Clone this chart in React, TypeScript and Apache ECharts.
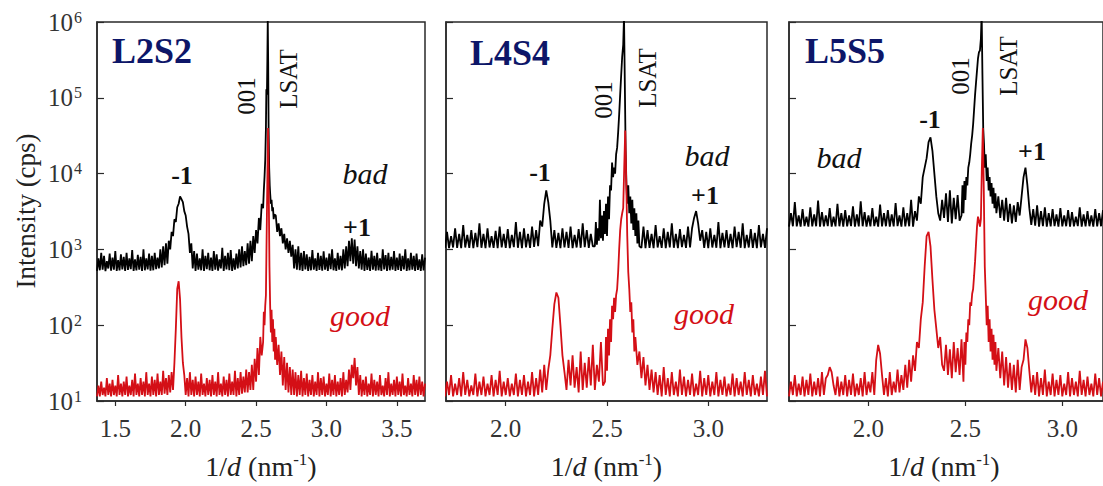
import { useEffect, useRef } from 'react';
import * as echarts from 'echarts';

// Diffraction scans, intensity (cps) sampled every STEP in 1/d, plus finer
// samples across the film / substrate reflections near 2.58 nm^-1.
const STEP = 0.01;
const SERIF = 'Liberation Serif, Times New Roman, Times, serif';
const RED = '#d40f16';
const NAVY = '#0d1668';

// ---- L2S2 (1/d from 1.37) ----
const l2s2Start = 1.37;
const l2s2Bad = [
  520, 760, 530, 900, 540, 820, 515, 700, 560, 880,
  525, 780, 540, 950, 520, 720, 530, 860, 545, 800,
  520, 900, 535, 760, 550, 980, 520, 740, 530, 850,
  540, 800, 520, 1000, 530, 760, 545, 880, 525, 820,
  530, 900, 550, 780, 560, 1000, 580, 1100, 620, 1200,
  650, 1300, 1000, 1700, 1500, 2500, 2300, 3600, 4000, 5000,
  4600, 4200, 3200, 2800, 2000, 1600, 900, 1200, 560, 950,
  520, 880, 540, 760, 530, 1000, 520, 820, 550, 900,
  530, 780, 520, 950, 540, 860, 525, 740, 560, 1050,
  520, 820, 545, 900, 530, 980, 520, 760, 540, 880,
  560, 1000, 580, 1100, 600, 950, 620, 1200, 650, 1300,
  700, 1500, 900, 1800, 1200, 2600, 1800, 4000, 3000, 8000,
  100000, 900000, 100000, 8000, 5000, 3000, 2500, 2800, 1700, 2200,
  1500, 1900, 1200, 1600, 1000, 1400, 900, 1300, 800, 1150,
  560, 1000, 540, 1100, 530, 900, 520, 950, 545, 860,
  520, 800, 530, 980, 540, 760, 520, 900, 535, 820,
  525, 940, 540, 780, 520, 880, 550, 1000, 530, 760,
  520, 900, 540, 820, 530, 1000, 560, 1100, 600, 1300,
  700, 1400, 650, 1350, 600, 1100, 560, 950, 540, 1000,
  520, 880, 535, 780, 520, 960, 540, 820, 525, 900,
  530, 760, 520, 1000, 545, 840, 520, 900, 530, 800,
  540, 950, 520, 780, 535, 880, 520, 820, 545, 1000,
  520, 760, 530, 900, 540, 820, 520, 880, 535, 740,
  520, 860, 530, 780,
];
const l2s2BadFine: [number, number][] = [
  [2.55, 3500], [2.555, 6000], [2.56, 9000], [2.565, 15000], [2.57, 40000],
  [2.573, 130000], [2.577, 110000], [2.58, 300000], [2.583, 1100000], [2.586, 300000],
  [2.589, 40000], [2.593, 12000], [2.597, 7000], [2.6, 5500], [2.605, 4000],
  [2.61, 4500], [2.615, 3200], [2.62, 3600], [2.625, 2500], [2.63, 2900],
];
const l2s2Good = [
  11.5, 16, 11.5, 18, 12, 15, 11.5, 20, 12, 17,
  11.5, 19, 12, 16, 11.5, 22, 12, 17, 11.5, 18,
  12, 21, 11.5, 16, 12, 19, 11.5, 23, 12, 17,
  11.5, 20, 12, 18, 11.5, 24, 12, 17, 11.5, 21,
  12, 19, 11.5, 23, 12, 18, 12, 25, 12.5, 20,
  12, 22, 13, 24, 14, 32, 90, 300, 380, 220,
  70, 32, 22, 12, 20, 11.5, 24, 12, 19, 11.5,
  21, 12, 18, 11.5, 23, 12, 17, 11.5, 20, 12,
  19, 11.5, 22, 12, 18, 11.5, 24, 12, 17, 11.5,
  21, 12, 19, 11.5, 23, 12, 18, 12, 25, 11.5,
  20, 12, 24, 12.5, 21, 13, 26, 13, 24, 14,
  30, 14, 36, 18, 50, 22, 70, 40, 150, 100,
  250, 8000, 6000, 180, 150, 120, 90, 70, 30, 55,
  22, 45, 16, 38, 14, 32, 13, 28, 12, 26,
  12, 24, 11.5, 22, 12, 25, 11.5, 20, 12, 23,
  11.5, 19, 12, 22, 11.5, 18, 12, 24, 11.5, 20,
  12, 21, 11.5, 17, 12, 23, 11.5, 19, 12, 22,
  11.5, 18, 12, 20, 11.5, 24, 12, 19, 13, 26,
  14, 30, 20, 37, 16, 28, 12, 22, 11.5, 19,
  12, 21, 11.5, 17, 12, 23, 11.5, 19, 12, 18,
  11.5, 22, 12, 16, 11.5, 20, 12, 24, 11.5, 17,
  12, 19, 11.5, 21, 12, 18, 11.5, 23, 12, 16,
  11.5, 20, 12, 17, 11.5, 22, 12, 19, 11.5, 21,
  12, 18, 11.5, 17,
];
const l2s2GoodFine: [number, number][] = [
  [2.55, 60], [2.555, 150], [2.56, 100], [2.565, 180], [2.57, 250],
  [2.575, 1500], [2.58, 8000], [2.585, 40000], [2.59, 6000], [2.595, 600],
  [2.6, 180], [2.605, 80], [2.61, 160], [2.615, 60], [2.62, 120],
  [2.625, 45], [2.63, 90], [2.635, 35], [2.64, 70],
];

// ---- L4S4 (1/d from 1.70) ----
const l4s4Start = 1.7;
const l4s4Bad = [
  1050, 1700, 1040, 1500, 1060, 1900, 1050, 1600, 1040, 2100,
  1060, 1550, 1050, 1800, 1040, 1650, 1070, 2200, 1050, 1600,
  1040, 1900, 1060, 1500, 1050, 1750, 1040, 2000, 1060, 1600,
  1050, 1850, 1040, 1550, 1070, 2300, 1050, 1700, 1040, 1900,
  1060, 1600, 1050, 2000, 1080, 1800, 1100, 2400, 2000, 4000,
  6000, 4200, 2400, 1060, 1800, 1050, 1650, 1040, 1900, 1060,
  1700, 1050, 2000, 1040, 1550, 1060, 1850, 1050, 2200, 1070,
  1800, 1050, 1600, 1100, 2300, 1080, 1900, 1300, 2600, 1200,
  1500, 5000, 6000, 9000, 10000, 22000, 60000, 200000, 500000, 20000,
  4000, 3000, 2200, 1800, 1500, 1200, 1700, 1050, 2000, 1040,
  1800, 1050, 1600, 1040, 2100, 1060, 1500, 1050, 1900, 1040,
  1700, 1060, 2200, 1050, 1600, 1040, 1850, 1070, 1550, 1050,
  2000, 1060, 1900, 2600, 3200, 2200, 1300, 1800, 1050, 1700,
  1040, 1900, 1060, 1550, 1050, 2300, 1040, 1650, 1060, 1800,
  1050, 1600, 1040, 2000, 1070, 1700, 1050, 2200, 1040, 1550,
  1060, 1850, 1050, 1650, 1040, 2100, 1060, 1600, 1050, 1900,
];
const l4s4BadFine: [number, number][] = [
  [2.44, 1100], [2.445, 2300], [2.45, 1150], [2.455, 1900], [2.46, 1300],
  [2.465, 4500], [2.47, 1400], [2.475, 2800], [2.48, 1300], [2.485, 3200],
  [2.49, 1600], [2.495, 4000], [2.5, 1500], [2.505, 5000], [2.51, 2500],
  [2.515, 7000], [2.52, 6000], [2.525, 14000], [2.53, 9000], [2.535, 12000],
  [2.54, 10000], [2.545, 18000], [2.55, 22000], [2.555, 35000], [2.56, 60000],
  [2.565, 110000], [2.57, 200000], [2.575, 350000], [2.58, 500000], [2.584, 1200000],
  [2.588, 150000], [2.592, 20000], [2.596, 7000], [2.6, 4000], [2.605, 7000],
  [2.61, 3000], [2.615, 5000], [2.62, 2200], [2.625, 4500], [2.63, 1800],
  [2.635, 3500], [2.64, 1500], [2.645, 3000], [2.65, 1200], [2.655, 2400],
  [2.66, 1100],
];
const l4s4Good = [
  11.5, 18, 12, 22, 11.5, 17, 12, 20, 11.5, 24,
  12, 19, 11.5, 16, 12, 23, 11.5, 18, 12, 21,
  11.5, 17, 12, 22, 11.5, 19, 12, 25, 11.5, 18,
  12, 20, 11.5, 17, 12, 23, 11.5, 19, 12, 22,
  11.5, 18, 12, 24, 11.5, 20, 12, 26, 13, 30,
  14, 26, 40, 90, 190, 270, 230, 100, 40, 24,
  14, 35, 16, 40, 15, 28, 13, 45, 14, 32,
  15, 38, 16, 55, 14, 30, 18, 60, 16, 70,
  25, 40, 60, 120, 150, 300, 1000, 2500, 3500, 37000,
  1500, 300, 200, 120, 70, 30, 45, 20, 38, 16,
  30, 14, 26, 13, 24, 12, 22, 11.5, 28, 12,
  20, 11.5, 24, 12, 18, 11.5, 26, 12, 21, 11.5,
  19, 12, 23, 11.5, 17, 12, 25, 11.5, 20, 12,
  22, 11.5, 18, 12, 24, 11.5, 19, 12, 21, 11.5,
  17, 12, 23, 11.5, 20, 12, 18, 11.5, 24, 12,
  19, 11.5, 22, 12, 17, 11.5, 21, 12, 25, 11.5,
];
const l4s4GoodFine: [number, number][] = [
  [2.49, 18], [2.495, 70], [2.5, 25], [2.505, 90], [2.51, 40],
  [2.515, 120], [2.52, 60], [2.525, 180], [2.53, 120], [2.535, 230],
  [2.54, 150], [2.545, 250], [2.55, 300], [2.555, 500], [2.56, 1000],
  [2.565, 1800], [2.57, 2500], [2.575, 3000], [2.58, 3500], [2.585, 12000],
  [2.59, 37000], [2.595, 8000], [2.6, 1500], [2.605, 500], [2.61, 300],
  [2.615, 150], [2.62, 200], [2.625, 80], [2.63, 120], [2.635, 45],
  [2.64, 70],
];

// ---- L5S5 (1/d from 1.59) ----
const l5s5Start = 1.59;
const l5s5Bad = [
  2000, 3000, 2020, 4200, 2010, 2800, 2000, 3400, 2030, 2700,
  2000, 3600, 2010, 2900, 2020, 4400, 2000, 3100, 2010, 2800,
  2030, 3500, 2000, 2700, 2010, 4000, 2020, 3000, 2000, 3300,
  2010, 2800, 2030, 3700, 2000, 2900, 2010, 4300, 2020, 3100,
  2000, 2800, 2010, 3500, 2030, 2700, 2000, 3900, 2010, 3000,
  2020, 3300, 2000, 2900, 2010, 4100, 2030, 2800, 2000, 3600,
  2010, 3000, 2020, 4500, 2000, 3200, 2400, 5000, 4000, 9000,
  12000, 16000, 26000, 30000, 20000, 10000, 5000, 3000, 2400, 4500,
  2600, 5500, 2300, 6000, 2200, 4800, 2500, 5200, 2400, 6500,
  3000, 4500, 7000, 14000, 25000, 45000, 110000, 230000, 400000, 600000,
  40000, 12000, 8000, 6000, 5000, 4000, 3500, 3000, 5000, 2600,
  4500, 2400, 4800, 2300, 4000, 2200, 3800, 2300, 4200, 2800,
  5000, 9000, 12000, 7000, 3500, 2100, 3400, 2050, 3800, 2000,
  3200, 2020, 3600, 2000, 3000, 2010, 3400, 2030, 2900, 2000,
  3500, 2010, 2800, 2020, 3300, 2000, 3100, 2010, 2700, 2030,
  3600, 2000, 2900, 2010, 3200, 2020, 2800, 2000, 3400, 2010,
  3000, 2020, 3300,
];
const l5s5BadFine: [number, number][] = [
  [2.48, 2800], [2.485, 7000], [2.49, 3000], [2.495, 8000], [2.5, 4500],
  [2.505, 9000], [2.51, 7000], [2.515, 12000], [2.52, 14000], [2.525, 18000],
  [2.53, 25000], [2.535, 32000], [2.54, 45000], [2.545, 70000], [2.55, 110000],
  [2.555, 160000], [2.56, 230000], [2.565, 330000], [2.57, 400000], [2.575, 420000],
  [2.58, 600000], [2.584, 1300000], [2.588, 200000], [2.592, 40000], [2.596, 25000],
  [2.6, 12000], [2.605, 18000], [2.61, 8000], [2.615, 12000], [2.62, 6000],
  [2.625, 9000], [2.63, 5000], [2.635, 7500], [2.64, 4000], [2.645, 6500],
  [2.65, 3500], [2.655, 5500], [2.66, 3000],
];
const l5s5Good = [
  11.5, 18, 12, 22, 11.5, 17, 12, 21, 11.5, 19,
  12, 23, 11.5, 18, 12, 20, 11.5, 24, 12, 20,
  22, 28, 24, 16, 12, 21, 11.5, 18, 12, 22,
  11.5, 19, 12, 23, 11.5, 17, 12, 20, 11.5, 24,
  12, 18, 13, 24, 12, 35, 55, 42, 22, 12,
  20, 11.5, 24, 12, 18, 13, 26, 13, 22, 14,
  30, 15, 35, 18, 40, 25, 60, 50, 120, 200,
  600, 1500, 1700, 1100, 400, 160, 90, 50, 70, 30,
  25, 55, 22, 48, 20, 60, 24, 50, 22, 65,
  18, 30, 60, 100, 180, 300, 700, 2000, 2400, 2500,
  40000, 600, 100, 60, 45, 35, 30, 25, 50, 20,
  45, 16, 38, 15, 32, 14, 30, 13, 35, 14,
  28, 35, 65, 50, 25, 13, 22, 12, 24, 11.5,
  20, 12, 26, 11.5, 18, 12, 23, 11.5, 19, 12,
  22, 11.5, 17, 12, 24, 11.5, 20, 12, 18, 11.5,
  25, 12, 19, 11.5, 21, 12, 17, 11.5, 23, 12,
  20, 11.5, 18,
];
const l5s5GoodFine: [number, number][] = [
  [2.49, 18], [2.495, 60], [2.5, 30], [2.505, 80], [2.51, 60],
  [2.515, 120], [2.52, 100], [2.525, 200], [2.53, 180], [2.535, 260],
  [2.54, 300], [2.545, 450], [2.55, 700], [2.555, 1200], [2.56, 2000],
  [2.565, 2700], [2.57, 2400], [2.575, 2000], [2.58, 2500], [2.585, 12000],
  [2.59, 40000], [2.595, 6000], [2.6, 600], [2.605, 250], [2.61, 100],
  [2.615, 180], [2.62, 60], [2.625, 120], [2.63, 45], [2.635, 90],
  [2.64, 35], [2.645, 75], [2.65, 30], [2.655, 60], [2.66, 25],
];

// ---- axes ----
const xRanges: [number, number][] = [[1.37, 3.7], [1.705, 3.29], [1.59, 3.21]];
const xTicks = [[1.5, 2.0, 2.5, 3.0, 3.5], [2.0, 2.5, 3.0], [2.0, 2.5, 3.0]];
const yRange: [number, number] = [10, 1e6];

// Combine the coarse scan with the fine samples around the Bragg peaks.
function buildScan(start: number, values: number[], fine: [number, number][]) {
  const lo = fine[0][0];
  const hi = fine[fine.length - 1][0];
  const pts: [number, number][] = [];
  values.forEach((v, i) => {
    const x = Math.round((start + i * STEP) * 1000) / 1000;
    if (x < lo || x > hi) pts.push([x, v]);
  });
  return pts.concat(fine).sort((a, b) => a[0] - b[0]);
}

const scans = [
  { bad: buildScan(l2s2Start, l2s2Bad, l2s2BadFine), good: buildScan(l2s2Start, l2s2Good, l2s2GoodFine) },
  { bad: buildScan(l4s4Start, l4s4Bad, l4s4BadFine), good: buildScan(l4s4Start, l4s4Good, l4s4GoodFine) },
  { bad: buildScan(l5s5Start, l5s5Bad, l5s5BadFine), good: buildScan(l5s5Start, l5s5Good, l5s5GoodFine) },
];

const grids = [
  { left: 97, top: 22, width: 328, height: 379 },
  { left: 446, top: 22, width: 321, height: 379 },
  { left: 789, top: 22, width: 316, height: 379 },
];

type Note = { text: string; x: number; y: number; kind: 'title' | 'order' | 'peak' | 'bad' | 'good' };
const notes: Note[] = [
  { text: 'L2S2', x: 152, y: 51, kind: 'title' },
  { text: '001', x: 246, y: 96, kind: 'peak' },
  { text: 'LSAT', x: 288, y: 79, kind: 'peak' },
  { text: '-1', x: 182, y: 175, kind: 'order' },
  { text: 'bad', x: 365, y: 173, kind: 'bad' },
  { text: '+1', x: 357, y: 227, kind: 'order' },
  { text: 'good', x: 360, y: 315, kind: 'good' },

  { text: 'L4S4', x: 510, y: 53, kind: 'title' },
  { text: '001', x: 603, y: 100, kind: 'peak' },
  { text: 'LSAT', x: 647, y: 78, kind: 'peak' },
  { text: '-1', x: 540, y: 172, kind: 'order' },
  { text: 'bad', x: 707, y: 155, kind: 'bad' },
  { text: '+1', x: 705, y: 195, kind: 'order' },
  { text: 'good', x: 704, y: 313, kind: 'good' },

  { text: 'L5S5', x: 845, y: 51, kind: 'title' },
  { text: '001', x: 960, y: 76, kind: 'peak' },
  { text: 'LSAT', x: 1008, y: 66, kind: 'peak' },
  { text: '-1', x: 930, y: 119, kind: 'order' },
  { text: 'bad', x: 839, y: 157, kind: 'bad' },
  { text: '+1', x: 1032, y: 151, kind: 'order' },
  { text: 'good', x: 1058, y: 299, kind: 'good' },
];

function noteStyle(kind: Note['kind']) {
  switch (kind) {
    case 'title':
      return { fontSize: 36, fontWeight: 'bold', fill: NAVY };
    case 'order':
      return { fontSize: 26, fontWeight: 'bold', fill: '#111' };
    case 'peak':
      return { fontSize: 25, fill: '#111' };
    case 'bad':
      return { fontSize: 30, fontStyle: 'italic', fill: '#111' };
    default:
      return { fontSize: 30, fontStyle: 'italic', fill: RED };
  }
}

export default function App() {
  const ref = useRef<HTMLDivElement>(null);

  useEffect(() => {
    if (!ref.current) return;
    const chart = echarts.init(ref.current, null, { renderer: 'svg' });

    const axisColor = '#2a2a2a';
    const xAxis = grids.map((_, i) => ({
      type: 'value',
      gridIndex: i,
      min: xRanges[i][0],
      max: xRanges[i][1],
      axisLine: { show: true, lineStyle: { color: axisColor, width: 1.5 } },
      axisTick: { show: true, inside: false, length: 5, customValues: xTicks[i], lineStyle: { color: axisColor, width: 1.2 } },
      axisLabel: {
        customValues: xTicks[i],
        formatter: (v: number) => v.toFixed(1),
        fontFamily: SERIF,
        fontSize: 25,
        color: '#333',
        margin: 15,
      },
      splitLine: { show: false },
    }));

    const yAxis = grids.map((_, i) => ({
      type: 'log',
      logBase: 10,
      gridIndex: i,
      min: yRange[0],
      max: yRange[1],
      axisLine: { show: true, lineStyle: { color: axisColor, width: 1.5 } },
      axisTick: { show: true, inside: true, length: 7, lineStyle: { color: axisColor, width: 1.2 } },
      axisLabel: {
        show: i === 0,
        margin: 15,
        formatter: (v: number) => `{b|10}{e|${Math.round(Math.log10(v))}}`,
        rich: {
          b: { fontFamily: SERIF, fontSize: 25, color: '#333', lineHeight: 26 },
          e: { fontFamily: SERIF, fontSize: 16, color: '#333', verticalAlign: 'top', lineHeight: 26, padding: [0, 0, 0, 1] },
        },
      },
      splitLine: { show: false },
      minorTick: { show: false },
    }));

    const series: any[] = [];
    scans.forEach((s, i) => {
      series.push({
        type: 'line',
        xAxisIndex: i,
        yAxisIndex: i,
        data: s.bad,
        symbol: 'none',
        showSymbol: false,
        silent: true,
        clip: true,
        lineStyle: { color: '#000', width: 1.8 },
        z: 2,
      });
      series.push({
        type: 'line',
        xAxisIndex: i,
        yAxisIndex: i,
        data: s.good,
        symbol: 'none',
        showSymbol: false,
        silent: true,
        clip: true,
        lineStyle: { color: RED, width: 1.8 },
        z: 3,
      });
    });

    const xTitle = {
      text: '{n|1/}{i|d}{n| (nm}{s|-1}{n|)}',
      rich: {
        n: { fontFamily: SERIF, fontSize: 28, fill: '#222', lineHeight: 30 },
        i: { fontFamily: SERIF, fontSize: 28, fontStyle: 'italic', fill: '#222', lineHeight: 30 },
        s: { fontFamily: SERIF, fontSize: 17, fill: '#222', verticalAlign: 'top', lineHeight: 30 },
      },
    };

    const graphic: any[] = [];
    grids.forEach((g) => {
      graphic.push({
        type: 'text',
        x: g.left + Math.min(g.width, 1103 - g.left) / 2 + (g.left > 700 ? -2 : 0),
        y: 466,
        style: { ...xTitle, align: 'center', verticalAlign: 'middle' },
      });
    });
    graphic.push({
      type: 'text',
      x: 26,
      y: 211,
      rotation: Math.PI / 2,
      style: { text: 'Intensity (cps)', fontFamily: SERIF, fontSize: 27, fill: '#222', align: 'center', verticalAlign: 'middle' },
    });
    notes.forEach((n) => {
      graphic.push({
        type: 'text',
        x: n.x,
        y: n.y,
        rotation: n.kind === 'peak' ? Math.PI / 2 : 0,
        z: 10,
        style: { text: n.text, fontFamily: SERIF, align: 'center', verticalAlign: 'middle', ...noteStyle(n.kind) },
      });
    });

    chart.setOption({
      animation: false,
      backgroundColor: '#fff',
      grid: grids.map((g) => ({ ...g, show: true, borderColor: axisColor, borderWidth: 1.5, backgroundColor: 'transparent' })),
      xAxis,
      yAxis,
      series,
      graphic,
    });

    return () => chart.dispose();
  }, []);

  return (
    <div
      ref={ref}
      style={{ position: 'absolute', left: 0, top: 0, width: 1103, height: 486 }}
    />
  );
}
